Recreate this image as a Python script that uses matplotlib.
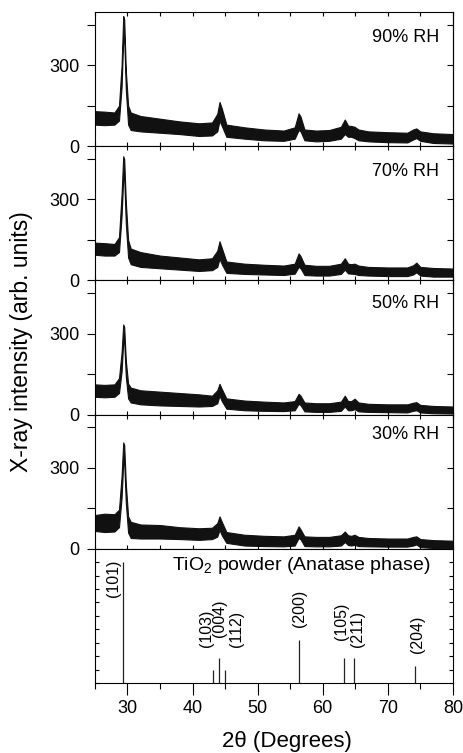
import numpy as np
import matplotlib
matplotlib.use('Agg')
import matplotlib.pyplot as plt
from matplotlib.ticker import MultipleLocator

plt.rcParams['font.family'] = ['Liberation Sans', 'DejaVu Sans']
plt.rcParams['mathtext.fontset'] = 'custom'
plt.rcParams['mathtext.rm'] = 'Liberation Sans'
plt.rcParams['mathtext.it'] = 'Liberation Sans:italic'

# 2theta sample points (degrees)
two_theta = [25, 26.5, 28.0, 28.7, 29.1, 29.35, 29.5, 29.75, 30.1, 30.5, 32, 35, 38, 41,
             43.0, 43.8, 44.15, 44.5, 45.2, 48, 51, 54, 55.7, 56.3, 56.6, 57.2, 59, 61,
             62.8, 63.4, 63.9, 64.4, 64.9, 65.5, 67, 70, 73, 73.9, 74.4, 75, 77, 80]

# upper / lower edge of the noisy trace for each humidity
rh_labels = ['90% RH', '70% RH', '50% RH', '30% RH']
hi_90 = [130, 128, 125, 150, 300, 482, 470, 280, 150, 125, 112, 102, 92, 85,
         88, 120, 164, 140, 80, 70, 62, 58, 70, 122, 110, 62, 58, 60,
         72, 99, 76, 75, 72, 62, 55, 52, 50, 62, 66, 55, 48, 45]
lo_90 = [80, 78, 80, 95, 220, 400, 400, 210, 80, 60, 55, 50, 45, 38,
         40, 55, 95, 75, 35, 28, 22, 20, 28, 60, 55, 22, 18, 20,
         28, 45, 35, 35, 30, 22, 18, 15, 14, 25, 30, 20, 12, 10]
hi_70 = [140, 138, 135, 160, 320, 460, 450, 290, 150, 118, 105, 92, 85, 78,
         82, 110, 145, 120, 70, 62, 58, 55, 62, 100, 90, 58, 54, 54,
         62, 82, 62, 60, 62, 55, 50, 48, 48, 56, 66, 50, 46, 44]
lo_70 = [95, 92, 92, 105, 240, 380, 380, 210, 85, 60, 50, 45, 40, 35,
         38, 50, 80, 60, 28, 24, 22, 20, 25, 50, 45, 20, 18, 18,
         24, 40, 26, 25, 24, 20, 18, 16, 16, 22, 30, 18, 14, 14]
hi_50 = [112, 110, 112, 135, 230, 334, 325, 200, 115, 100, 90, 85, 80, 75,
         70, 90, 114, 95, 60, 52, 48, 45, 50, 77, 70, 45, 42, 42,
         48, 70, 50, 50, 59, 45, 40, 38, 38, 44, 46, 36, 32, 30]
lo_50 = [66, 64, 66, 80, 160, 270, 270, 140, 60, 45, 38, 34, 32, 30,
         32, 42, 70, 50, 22, 16, 14, 13, 16, 40, 35, 12, 10, 10,
         14, 30, 16, 16, 20, 12, 10, 9, 8, 14, 16, 8, 5, 4]
hi_30 = [125, 130, 128, 145, 270, 394, 385, 240, 120, 100, 90, 88, 80, 76,
         78, 95, 120, 100, 62, 52, 48, 46, 52, 83, 72, 46, 44, 44,
         50, 64, 50, 48, 52, 44, 40, 38, 38, 44, 46, 36, 32, 30]
lo_30 = [66, 62, 64, 80, 190, 320, 320, 170, 60, 40, 38, 38, 36, 33,
         36, 45, 70, 50, 22, 12, 10, 9, 12, 40, 35, 10, 9, 9,
         12, 25, 14, 12, 15, 10, 9, 8, 8, 12, 16, 6, 3, 2]

# anatase reference pattern
hkl = ['(101)', '(103)', '(004)', '(112)', '(200)', '(105)', '(211)', '(204)']
stick_pos = [29.35, 43.1, 44.1, 45.0, 56.3, 63.3, 64.8, 74.2]
stick_int = [90, 9.5, 18.5, 9.5, 32, 18.5, 18.5, 13]

his = [hi_90, hi_70, hi_50, hi_30]
los = [lo_90, lo_70, lo_50, lo_30]
rh_y = [0.81, 0.81, 0.83, 0.85]
# where each hkl label sits (x centre, bottom end)
hkl_x = [27.8, 42.2, 44.2, 46.7, 56.5, 62.9, 65.4, 74.5]
hkl_y = [63.7, 26.7, 34.0, 26.7, 41.5, 31.9, 26.7, 22.2]

fig, axes = plt.subplots(5, 1, sharex=True, figsize=(4.63, 7.53), dpi=100)
fig.subplots_adjust(left=0.205, right=0.978, top=0.984, bottom=0.093, hspace=0)

for i in range(4):
    ax = axes[i]
    ax.fill_between(two_theta, los[i], his[i], color='#111111', lw=0.8, edgecolor='#111111')
    ax.set_ylim(0, 497)
    ax.set_yticks([0, 150, 300, 450])
    ax.set_yticklabels(['0', '', '300', ''])
    ax.tick_params(axis='y', direction='out', length=6, width=0.8, right=False,
                   labelsize=13, pad=5)
    ax.tick_params(axis='x', which='both', direction='in', length=3, width=0.8,
                   top=True, bottom=True)
    sec = ax.secondary_yaxis('right')
    sec.set_yticks([0, 150, 300, 450])
    sec.tick_params(direction='in', length=4, width=0.8, labelright=False)
    sec.spines['right'].set_linewidth(0.8)
    ax.text(0.961, rh_y[i], rh_labels[i], transform=ax.transAxes, ha='right',
            va='center', fontsize=13)
    for s in ax.spines.values():
        s.set_linewidth(0.8)

ax = axes[4]
ax.vlines(stick_pos, 0, stick_int, color='#222222', lw=0.9)
for lab, x, y in zip(hkl, hkl_x, hkl_y):
    ax.text(x, y, lab, rotation=90, ha='center', va='bottom', fontsize=11.5)
ax.text(0.936, 0.874, 'TiO$_2$ powder (Anatase phase)', transform=ax.transAxes,
        ha='right', va='center', fontsize=14)
ax.set_ylim(0, 100)
ax.set_yticks(np.arange(0, 101, 10))
ax.tick_params(axis='y', direction='in', length=3, width=0.8, left=True, right=True,
               labelleft=False)
ax.set_xlim(25, 80)
ax.xaxis.set_major_locator(MultipleLocator(10))
ax.xaxis.set_minor_locator(MultipleLocator(5))
ax.tick_params(axis='x', which='major', direction='out', length=8.5, width=0.8,
               top=False, labelsize=13, pad=4)
ax.tick_params(axis='x', which='minor', direction='out', length=4.5, width=0.8, top=False)
for s in ax.spines.values():
    s.set_linewidth(0.8)

fig.text(287 / 463, 1 - 741 / 753, '2θ (Degrees)', ha='center', va='center', fontsize=16)
fig.text(22 / 463, 1 - 342 / 753, 'X-ray intensity (arb. units)', rotation=90,
         ha='center', va='center', fontsize=16.5)

fig.savefig('out.png', dpi=100)
